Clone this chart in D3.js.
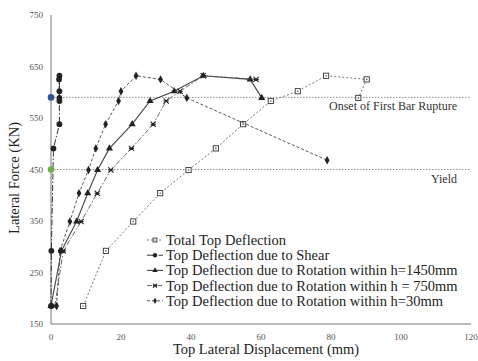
<!DOCTYPE html>
<html><head><meta charset="utf-8">
<script src="https://cdn.jsdelivr.net/npm/d3@7"></script>
<style>html,body{margin:0;padding:0;background:#fff;} svg{display:block;}</style>
</head><body>
<script>
// ---- data ----
const forceLevels = [185, 292, 349, 404, 449, 491, 538, 583, 602, 632, 625, 589];
const totalDisp   = [9.2, 15.7, 23.5, 31.2, 39.3, 47.1, 54.9, 62.8, 70.5, 78.6, 90.2, 87.8];
const shearForce  = [185, 292, 491, 538, 583, 602, 632, 625, 589];
const shearDisp   = [0, 0.1, 0.7, 2.4, 2.4, 2.4, 2.4, 2.3, 2.4];
const rot1450Disp = [0, 3.0, 7.3, 10.5, 13.3, 16.7, 23.2, 28.3, 35.2, 43.5, 56.9, 60.2];
const rot750Disp  = [1.1, 3.5, 8.6, 13.2, 17.1, 23.0, 29.2, 32.9, 36.9, 43.5, 58.6];
const rot30Disp   = [1.6, 2.6, 5.4, 8.0, 10.7, 12.8, 15.6, 19.3, 20.0, 24.3, 31.3, 38.8, 78.9];
const rot30Force  = [185, 292, 349, 404, 449, 491, 538, 583, 602, 632, 625, 589, 468];
const seriesNames = ["Total Top Deflection", "Top Deflection due to Shear",
  "Top Deflection due to Rotation within h=1450mm",
  "Top Deflection due to Rotation within h = 750mm",
  "Top Deflection due to Rotation within h=30mm"];
const refValues = [590, 450];
const refLabels = ["Onset of First Bar Rupture", "Yield"];
const xTicks = [0, 20, 40, 60, 80, 100, 120];
const yTicks = [150, 250, 350, 450, 550, 650, 750];

const W = 478, H = 361;
const svg = d3.select("body").append("svg").attr("width", W).attr("height", H);
const x = d3.scaleLinear().domain([0, 120]).range([51, 471]);
const y = d3.scaleLinear().domain([150, 750]).range([324, 15]);
const font = "'Liberation Serif', 'Times New Roman', serif";

// axes lines
svg.append("line").attr("x1", x(0)).attr("x2", x(0)).attr("y1", y(750)).attr("y2", y(150))
  .attr("stroke", "#777").attr("stroke-width", 1);
svg.append("line").attr("x1", x(0)).attr("x2", x(120)).attr("y1", y(150)).attr("y2", y(150))
  .attr("stroke", "#777").attr("stroke-width", 1);

// tick labels
svg.selectAll(".yt").data(yTicks).enter().append("text")
  .attr("x", x(0) - 8).attr("y", d => y(d)).attr("dy", "0.35em")
  .attr("text-anchor", "end").attr("font-family", font).attr("font-size", 9).attr("fill", "#555")
  .text(d => d);
svg.selectAll(".xt").data(xTicks).enter().append("text")
  .attr("x", d => x(d)).attr("y", y(150) + 13).attr("dy", "0.35em")
  .attr("text-anchor", "middle").attr("font-family", font).attr("font-size", 9).attr("fill", "#555")
  .text(d => d);

// axis titles
svg.append("text").attr("x", 266).attr("y", 354).attr("text-anchor", "middle")
  .attr("font-family", font).attr("font-size", 14.5).attr("fill", "#222").text("Top Lateral Displacement (mm)");
svg.append("text").attr("transform", `translate(19,178) rotate(-90)`).attr("text-anchor", "middle")
  .attr("font-family", font).attr("font-size", 14.5).attr("fill", "#222").text("Lateral Force (KN)");

// reference lines
refValues.forEach((v, i) => {
  svg.append("line").attr("x1", x(0)).attr("x2", x(120)).attr("y1", y(v)).attr("y2", y(v))
    .attr("stroke", "#777").attr("stroke-width", 0.8).attr("stroke-dasharray", "1.5,1.5");
  svg.append("text").attr("x", 457).attr("y", y(v) + 13).attr("text-anchor", "end")
    .attr("font-family", font).attr("font-size", 12).attr("fill", "#333").text(refLabels[i]);
});

// series
const seriesData = [
  totalDisp.map((d, i) => [d, forceLevels[i]]),
  shearDisp.map((d, i) => [d, shearForce[i]]),
  rot1450Disp.map((d, i) => [d, forceLevels[i]]),
  rot750Disp.map((d, i) => [d, forceLevels[i]]),
  rot30Disp.map((d, i) => [d, rot30Force[i]])
];
const styles = [
  {stroke: "#666", dash: "2,2", width: 0.9, marker: "square"},
  {stroke: "#333", dash: "6,2,1.5,2", width: 1, marker: "circle"},
  {stroke: "#444", dash: null, width: 1.1, marker: "triangle"},
  {stroke: "#555", dash: "5,2,1.5,2", width: 0.9, marker: "star"},
  {stroke: "#444", dash: "3,2", width: 0.9, marker: "diamond"}
];
const line = d3.line().x(d => x(d[0])).y(d => y(d[1]));

function drawMarker(g, type, cx, cy, scale) {
  const s = scale || 1;
  if (type === "square") {
    g.append("rect").attr("x", cx - 2.6 * s).attr("y", cy - 2.6 * s).attr("width", 5.2 * s).attr("height", 5.2 * s)
      .attr("fill", "#fff").attr("stroke", "#333").attr("stroke-width", 0.9);
    g.append("circle").attr("cx", cx).attr("cy", cy).attr("r", 0.8 * s).attr("fill", "#555");
  } else if (type === "circle") {
    g.append("circle").attr("cx", cx).attr("cy", cy).attr("r", 2.9 * s).attr("fill", "#222");
  } else if (type === "triangle") {
    g.append("path").attr("d", d3.symbol().type(d3.symbolTriangle).size(22 * s * s)())
      .attr("transform", `translate(${cx},${cy})`).attr("fill", "#222");
  } else if (type === "star") {
    const r = 2.6 * s;
    g.append("path").attr("d", `M${cx - r},${cy - r}L${cx + r},${cy + r}M${cx - r},${cy + r}L${cx + r},${cy - r}M${cx - r},${cy}L${cx + r},${cy}`)
      .attr("stroke", "#222").attr("stroke-width", 1.1).attr("fill", "none");
  } else if (type === "diamond") {
    g.append("path").attr("d", d3.symbol().type(d3.symbolDiamond).size(20 * s * s)())
      .attr("transform", `translate(${cx},${cy})`).attr("fill", "#222");
  }
}

seriesData.forEach((data, i) => {
  const st = styles[i];
  const g = svg.append("g");
  g.append("path").datum(data).attr("d", line).attr("fill", "none")
    .attr("stroke", st.stroke).attr("stroke-width", st.width)
    .attr("stroke-dasharray", st.dash);
  data.forEach(d => drawMarker(g, st.marker, x(d[0]), y(d[1])));
});

// reference dots on y axis
svg.append("circle").attr("cx", x(0)).attr("cy", y(refValues[0])).attr("r", 3.3).attr("fill", "#2f5597");
svg.append("circle").attr("cx", x(0)).attr("cy", y(refValues[1])).attr("r", 3.3).attr("fill", "#70ad47");

// legend
const lg = svg.append("g");
seriesNames.forEach((name, i) => {
  const cy = 240 + i * 15.2;
  const st = styles[i];
  lg.append("line").attr("x1", 147).attr("x2", 163).attr("y1", cy).attr("y2", cy)
    .attr("stroke", st.stroke).attr("stroke-width", st.width).attr("stroke-dasharray", st.dash);
  drawMarker(lg, st.marker, 155, cy, 0.75);
  lg.append("text").attr("x", 166).attr("y", cy).attr("dy", "0.35em")
    .attr("font-family", font).attr("font-size", 14.5).attr("fill", "#222").text(name);
});
</script>
</body></html>
